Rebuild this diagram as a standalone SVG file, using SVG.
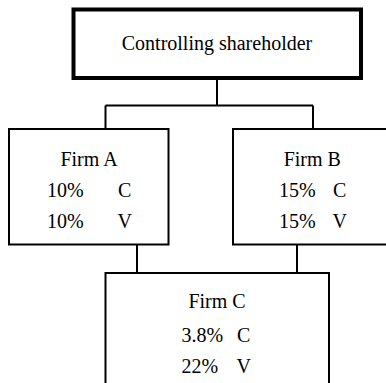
<svg xmlns="http://www.w3.org/2000/svg" width="386" height="383" viewBox="0 0 386 383">
<style>
.box{fill:#fff;stroke:#000;stroke-width:2}
.thick{stroke-width:4}
.conn{fill:none;stroke:#000;stroke-width:2}
text{font-family:"Liberation Serif","Times New Roman",serif;font-size:20px;fill:#000}
.c{text-anchor:middle}
</style>
<rect width="386" height="383" fill="#fff"/>
<g id="connectors">
<path class="conn" d="M217,78 V105.5 M105.5,105.5 H313 M105.5,105.5 V129 M313,105.5 V129"/>
<path class="conn" d="M137,244.5 V273 M297,244.5 V273"/>
</g>
<g id="controlling">
<rect class="box thick" x="73.5" y="9.5" width="287.5" height="68.5"/>
<text class="c" x="217" y="50">Controlling shareholder</text>
</g>
<g id="firmA">
<rect class="box" x="9" y="129" width="159.5" height="115.5"/>
<text class="c" x="89" y="166">Firm A</text>
<text x="47" y="197">10%</text><text x="118" y="197">C</text>
<text x="47" y="228">10%</text><text x="117.5" y="228">V</text>
</g>
<g id="firmB">
<rect class="box" x="233" y="129" width="160" height="115.5"/>
<text class="c" x="312.3" y="166">Firm B</text>
<text x="279" y="197">15%</text><text x="333" y="197">C</text>
<text x="279" y="228">15%</text><text x="332.5" y="228">V</text>
</g>
<g id="firmC">
<rect class="box" x="105.5" y="273" width="223.5" height="120"/>
<text class="c" x="217" y="308">Firm C</text>
<text x="181.5" y="341.5">3.8%</text><text x="237" y="341.5">C</text>
<text x="181.5" y="373">22%</text><text x="236.5" y="373">V</text>
</g>
</svg>
